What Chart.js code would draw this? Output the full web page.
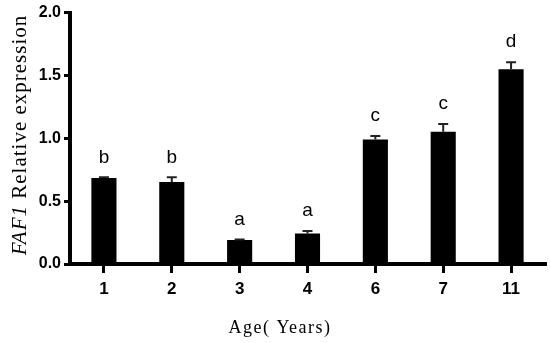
<!DOCTYPE html>
<html>
<head>
<meta charset="utf-8">
<script src="https://cdn.jsdelivr.net/npm/chart.js@4"></script>
<style>
  html, body { margin: 0; padding: 0; background: #fff; }
  #wrap { width: 550px; height: 343px; }
</style>
</head>
<body>
<div id="wrap"><canvas id="barChart"></canvas></div>
<script>
// data
const ages = ["1", "2", "3", "4", "6", "7", "11"];
const expression = [0.685, 0.653, 0.19, 0.243, 0.99, 1.053, 1.55];
const errors = [0.005, 0.037, 0.005, 0.02, 0.028, 0.06, 0.055];
const groups = ["b", "b", "a", "a", "c", "c", "d"];
const yTicks = [0, 0.5, 1.0, 1.5, 2.0];

// error bars + significance letters + axis titles
const extras = {
  id: "extras",
  afterDatasetsDraw(chart) {
    const ctx = chart.ctx;
    const x = chart.scales.x, y = chart.scales.y;
    ctx.save();
    expression.forEach(function (v, i) {
      const cx = x.getPixelForValue(i);
      const yTop = y.getPixelForValue(v + errors[i]);
      const yBar = y.getPixelForValue(v);
      ctx.strokeStyle = "#222";
      ctx.lineWidth = 2;
      ctx.beginPath();
      ctx.moveTo(cx, yBar);
      ctx.lineTo(cx, yTop);
      ctx.moveTo(cx - 5, yTop);
      ctx.lineTo(cx + 5, yTop);
      ctx.stroke();

      ctx.fillStyle = "#000";
      ctx.font = "19px 'Liberation Sans', Arial, sans-serif";
      ctx.textAlign = "center";
      ctx.textBaseline = "middle";
      ctx.fillText(groups[i], cx, yTop - 20);
    });
    ctx.restore();
  },
  afterDraw(chart) {
    const ctx = chart.ctx;
    const area = chart.chartArea;
    ctx.save();
    // y title, rotated, italic gene name
    ctx.translate(20, 135);
    ctx.rotate(-Math.PI / 2);
    ctx.fillStyle = "#000";
    ctx.textBaseline = "middle";
    ctx.letterSpacing = "1px";
    const fItalic = "italic 21px 'Liberation Serif', 'Times New Roman', serif";
    const fNormal = "21px 'Liberation Serif', 'Times New Roman', serif";
    ctx.font = fItalic;
    const w1 = ctx.measureText("FAF1").width;
    ctx.font = fNormal;
    const w2 = ctx.measureText(" Relative expression").width;
    let start = -(w1 + w2) / 2;
    ctx.textAlign = "left";
    ctx.font = fItalic;
    ctx.fillText("FAF1", start, 0);
    ctx.font = fNormal;
    ctx.fillText(" Relative expression", start + w1, 0);
    ctx.restore();

    ctx.save();
    ctx.fillStyle = "#000";
    ctx.letterSpacing = "1.5px";
    ctx.font = "18px 'Liberation Serif', 'Times New Roman', serif";
    ctx.textAlign = "center";
    ctx.textBaseline = "middle";
    ctx.fillText("Age( Years)", 280, 328);
    ctx.restore();
  }
};

var ctxB = document.getElementById("barChart").getContext("2d");
var myBarChart = new Chart(ctxB, {
  type: "bar",
  data: {
    labels: ages,
    datasets: [
      {
        data: expression,
        backgroundColor: "#000",
        borderWidth: 0,
        barPercentage: 0.74,
        categoryPercentage: 0.5,
      },
    ],
  },
  options: {
    responsive: true,
    maintainAspectRatio: false,
    animation: false,
    layout: { padding: { top: 12, right: 5, left: 0, bottom: 0 } },
    plugins: { legend: { display: false }, tooltip: { enabled: false } },
    scales: {
      x: {
        grid: {
          offset: false,
          drawOnChartArea: false,
          color: "#000",
          lineWidth: 3,
          tickLength: 9,
        },
        border: { color: "#000", width: 4 },
        ticks: {
          color: "#000",
          padding: 6,
          font: { family: "'Liberation Sans', Arial, sans-serif", weight: "bold", size: 17 },
        },
        afterFit(scale) { scale.height = 79; },
      },
      y: {
        min: 0,
        max: 2,
        afterBuildTicks(scale) { scale.ticks = yTicks.map(function (v) { return { value: v }; }); },
        grid: {
          drawOnChartArea: false,
          color: "#000",
          lineWidth: 3,
          tickLength: 6,
        },
        border: { color: "#000", width: 4 },
        ticks: {
          color: "#000",
          padding: 3,
          callback: function (v) { return Number(v).toFixed(1); },
          font: { family: "'Liberation Sans', Arial, sans-serif", weight: "bold", size: 16 },
        },
        afterFit(scale) { scale.width = 70; },
      },
    },
  },
  plugins: [extras],
});
</script>
</body>
</html>
